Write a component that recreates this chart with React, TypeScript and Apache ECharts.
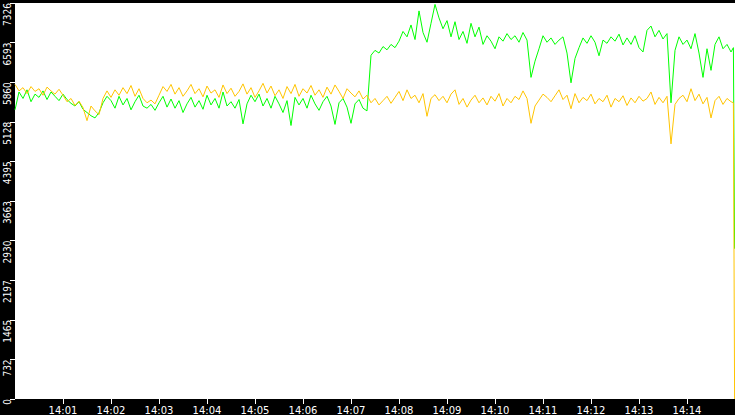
import React, { useEffect, useRef } from 'react';
import * as echarts from 'echarts';

// samples every 5 s from 14:00:00 to 14:14:55
const startTime = new Date(2024, 0, 1, 14, 0, 0).getTime();
const endTime = new Date(2024, 0, 1, 14, 15, 0).getTime();
const stepMs = 5000;

const yellowValues = [
  5820, 5700, 5760, 5650, 5780, 5690, 5740, 5620, 5770, 5700, 5640, 5730,
  5620, 5500, 5560, 5430, 5510, 5390, 5150, 5420, 5330, 5260, 5560, 5700,
  5580, 5720, 5620, 5760, 5650, 5800, 5600, 5740, 5560, 5480, 5530, 5460,
  5620, 5780, 5690, 5820, 5640, 5760, 5600, 5700, 5820, 5650, 5740, 5590,
  5790, 5660, 5720, 5580, 5810, 5650, 5750, 5600, 5690, 5830, 5640, 5760,
  5580, 5700, 5840, 5660, 5790, 5610, 5720, 5560, 5780, 5650, 5820, 5600,
  5740, 5660, 5800, 5620, 5720, 5580, 5770, 5640, 5810, 5690, 5560, 5740,
  5660, 5590, 5700, 5550, 5620, 5480, 5560, 5440, 5520, 5600, 5470, 5580,
  5690, 5520, 5720, 5560, 5620, 5480, 5650, 5230, 5560, 5630, 5520, 5600,
  5480, 5640, 5720, 5450, 5560, 5400, 5530, 5620, 5480, 5570, 5440, 5600,
  5510, 5650, 5420, 5560, 5480, 5600, 5540, 5700, 5560, 5100, 5420, 5530,
  5640, 5580, 5500, 5610, 5720, 5540, 5620, 5370, 5650, 5480, 5580, 5520,
  5640, 5460, 5560, 5500, 5620, 5400, 5560, 5500, 5610, 5430, 5570, 5480,
  5600, 5510, 5560, 5680, 5450, 5580, 5480, 5600, 4720, 5450, 5560, 5620,
  5500, 5740, 5520, 5640, 5460, 5580, 5200, 5520, 5600, 5450, 5560, 5500,
];

const greenValues = [
  5350, 5680, 5560, 5720, 5500, 5640, 5580, 5700, 5540, 5680, 5600, 5520,
  5640, 5540, 5470, 5420, 5500, 5360, 5300, 5240, 5200, 5300, 5480, 5600,
  5520, 5380, 5600, 5440, 5560, 5350, 5500, 5620, 5420, 5380, 5450, 5340,
  5480, 5600, 5400, 5550, 5380, 5520, 5300, 5460, 5580, 5400, 5520, 5360,
  5620, 5440, 5560, 5380, 5680, 5420, 5500, 5380, 5540, 5090, 5460, 5620,
  5500, 5640, 5420, 5560, 5380, 5600, 5460, 5300, 5520, 5060, 5580, 5440,
  5560, 5380, 5620, 5460, 5340, 5500, 5600, 5420, 5080, 5480, 5560, 5400,
  5100, 5460, 5540, 5380, 5330, 6360, 6450, 6400, 6520, 6460, 6560, 6500,
  6620, 6800, 6700, 6920, 6650, 7180, 6780, 6600, 6950, 7300, 7050, 6850,
  7000, 6700, 6980, 6650, 6800, 6580, 6950, 6700, 6880, 6560, 6720, 6620,
  6480, 6700, 6620, 6760, 6650, 6720, 6600, 6780, 6640, 5950, 6250, 6480,
  6720, 6600, 6680, 6560, 6640, 6700, 6400, 5850, 6300, 6500, 6680, 6580,
  6720, 6600, 6350, 6640, 6580, 6700, 6620, 6750, 6550, 6680, 6560, 6720,
  6500, 6420, 6820, 6900, 6700, 6820, 6660, 6760, 5480, 6450, 6700, 6560,
  6640, 6480, 6760, 6400, 5950, 6480, 6080, 6560, 6700, 6480, 6560, 6420,
];

// last samples, seconds after 14:14:00, where both lines fall away
const tailSeconds = [58, 59.5];
const yellowTail = [5480, 0];
const greenTail = [6500, 2780];

const xTickLabels = [
  '14:01', '14:02', '14:03', '14:04', '14:05', '14:06', '14:07',
  '14:08', '14:09', '14:10', '14:11', '14:12', '14:13', '14:14',
];

const yMax = 7326.1;
const yStep = 732.61;

const toPairs = (values: number[], tail: number[]) => {
  const pts = values.map((v, i) => [startTime + i * stepMs, v]);
  const base = startTime + 14 * 60000;
  tail.forEach((v, i) => pts.push([base + tailSeconds[i] * 1000, v]));
  return pts;
};

const labelTime = (s: string) => {
  const [h, m] = s.split(':').map(Number);
  return new Date(2024, 0, 1, h, m, 0).getTime();
};

export default function App() {
  const chartRef = useRef<HTMLDivElement>(null);

  useEffect(() => {
    if (!chartRef.current) return;
    const chart = echarts.init(chartRef.current, undefined, { renderer: 'svg' });
    const tickValues = xTickLabels.map(labelTime);

    const option: echarts.EChartsOption = {
      animation: false,
      backgroundColor: '#000',
      grid: {
        left: 15,
        right: 0,
        top: 0,
        bottom: 16,
        show: true,
        backgroundColor: '#fff',
        borderWidth: 0,
      },
      xAxis: {
        type: 'value',
        min: startTime,
        max: endTime,
        interval: 60000,
        splitLine: { show: false },
        axisLine: { show: false },
        axisTick: {
          show: true,
          length: 5,
          lineStyle: { color: '#fff' },
          customValues: tickValues,
        } as any,
        axisLabel: {
          color: '#fff',
          fontSize: 10,
          fontFamily: '"DejaVu Sans", sans-serif',
          margin: 6,
          customValues: tickValues,
          formatter: (v: number) => {
            const d = new Date(v);
            return `${d.getHours()}:${String(d.getMinutes()).padStart(2, '0')}`;
          },
        } as any,
      },
      yAxis: {
        type: 'value',
        min: 0,
        max: yMax,
        interval: yStep,
        splitLine: { show: false },
        axisLine: { show: false },
        axisTick: { show: true, length: 5, lineStyle: { color: '#fff' } },
        axisLabel: {
          color: '#fff',
          fontSize: 10,
          fontFamily: '"Liberation Sans Narrow", "DejaVu Sans Condensed", sans-serif',
          rotate: 90,
          align: 'right',
          verticalAlign: 'bottom',
          margin: 3,
          formatter: (v: number) => String(Math.floor(v + 1e-6)),
        },
      },
      series: [
        {
          name: 'green',
          type: 'line',
          data: toPairs(greenValues, greenTail),
          showSymbol: false,
          lineStyle: { color: '#00ff00', width: 1 },
          itemStyle: { color: '#00ff00' },
        },
        {
          name: 'yellow',
          type: 'line',
          data: toPairs(yellowValues, yellowTail),
          showSymbol: false,
          lineStyle: { color: '#ffc400', width: 1 },
          itemStyle: { color: '#ffc400' },
        },
      ],
    };

    chart.setOption(option);
    return () => chart.dispose();
  }, []);

  return (
    <div
      ref={chartRef}
      style={{ position: 'fixed', left: 0, top: 0, width: 735, height: 415 }}
    />
  );
}
